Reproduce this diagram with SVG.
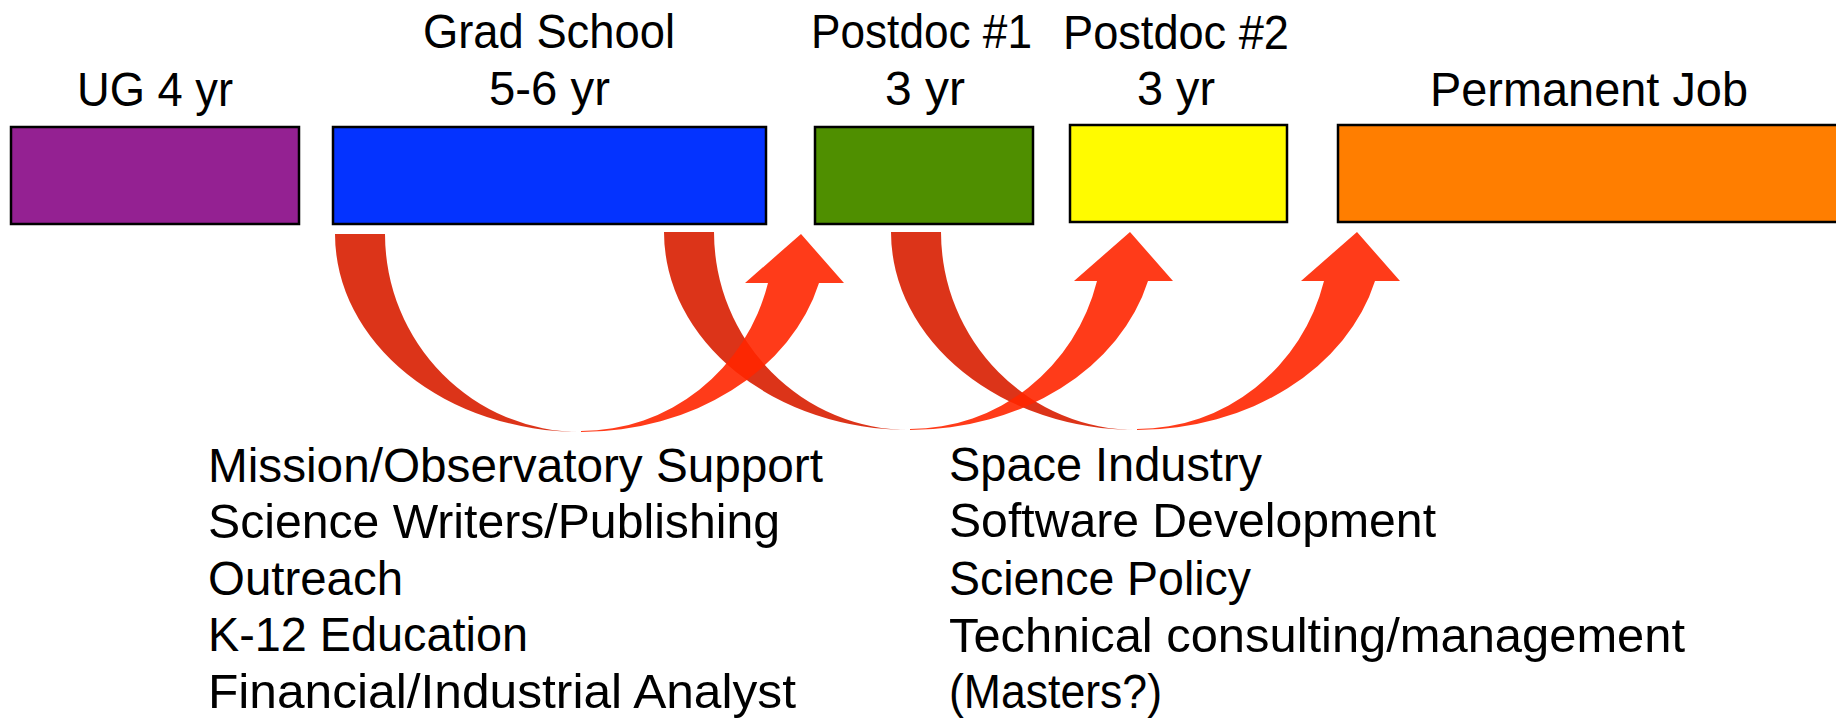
<svg xmlns="http://www.w3.org/2000/svg" xmlns:xlink="http://www.w3.org/1999/xlink" width="1844" height="719" viewBox="0 0 1844 719">
<style>
text{font-family:"Liberation Sans",Arial,sans-serif;font-size:48px;fill:#000}
.lbl{text-anchor:middle}
.box{stroke:#000;stroke-width:2.5}
.dark{fill:#D81E00;fill-opacity:0.9}
.bright{fill:#FF2600;fill-opacity:0.9}
</style>
<defs>
<path id="darkBand" d="M0,0 A246,198 0 0 0 246,198 A196,198 0 0 1 50,0 Z"/>
<path id="brightBand" d="M246,198 A246,198 0 0 0 484,49 L509,49 L466,0 L410,49 L433,49 A193,197 0 0 1 246,197 Z"/>
</defs>
<rect width="1844" height="719" fill="#fff"/>
<g id="ug">
<rect class="box" x="11" y="127" width="288" height="97" fill="#942192"/>
<text class="lbl" x="155" y="106" textLength="156" lengthAdjust="spacingAndGlyphs">UG 4 yr</text>
</g>
<g id="grad">
<rect class="box" x="333" y="127" width="433" height="97" fill="#0433FF"/>
<text class="lbl" x="549" y="48" textLength="252" lengthAdjust="spacingAndGlyphs">Grad School</text>
<text class="lbl" x="549.5" y="105" textLength="121" lengthAdjust="spacingAndGlyphs">5-6 yr</text>
</g>
<g id="postdoc1">
<rect class="box" x="815" y="127" width="218" height="97" fill="#4F8F00"/>
<text class="lbl" x="921.5" y="48" textLength="221" lengthAdjust="spacingAndGlyphs">Postdoc #1</text>
<text class="lbl" x="925" y="105" textLength="80" lengthAdjust="spacingAndGlyphs">3 yr</text>
</g>
<g id="postdoc2">
<rect class="box" x="1070" y="125" width="217" height="97" fill="#FFFB00"/>
<text class="lbl" x="1176" y="49" textLength="226" lengthAdjust="spacingAndGlyphs">Postdoc #2</text>
<text class="lbl" x="1176" y="105" textLength="78" lengthAdjust="spacingAndGlyphs">3 yr</text>
</g>
<g id="permanent">
<rect x="1338" y="125" width="498" height="97" fill="#FF7E00"/>
<path d="M1836,125 H1338 V222 H1836" fill="none" stroke="#000" stroke-width="2.5"/>
<text class="lbl" x="1589" y="106" textLength="318" lengthAdjust="spacingAndGlyphs">Permanent Job</text>
</g>
<g id="connectors">
<use xlink:href="#darkBand" class="dark" transform="translate(335,234)"/>
<use xlink:href="#darkBand" class="dark" transform="translate(664,232)"/>
<use xlink:href="#darkBand" class="dark" transform="translate(891,232)"/>
<use xlink:href="#brightBand" class="bright" transform="translate(335,234)"/>
<use xlink:href="#brightBand" class="bright" transform="translate(664,232)"/>
<use xlink:href="#brightBand" class="bright" transform="translate(891,232)"/>
</g>
<g id="left-list">
<text x="208" y="482" textLength="615" lengthAdjust="spacingAndGlyphs">Mission/Observatory Support</text>
<text x="208" y="538" textLength="572" lengthAdjust="spacingAndGlyphs">Science Writers/Publishing</text>
<text x="208" y="595" textLength="195" lengthAdjust="spacingAndGlyphs">Outreach</text>
<text x="208" y="651" textLength="320" lengthAdjust="spacingAndGlyphs">K-12 Education</text>
<text x="208" y="708" textLength="588" lengthAdjust="spacingAndGlyphs">Financial/Industrial Analyst</text>
</g>
<g id="right-list">
<text x="949" y="481" textLength="313" lengthAdjust="spacingAndGlyphs">Space Industry</text>
<text x="949" y="537" textLength="487" lengthAdjust="spacingAndGlyphs">Software Development</text>
<text x="949" y="595" textLength="302" lengthAdjust="spacingAndGlyphs">Science Policy</text>
<text x="949" y="652" textLength="736" lengthAdjust="spacingAndGlyphs">Technical consulting/management</text>
<text x="949" y="708" textLength="213" lengthAdjust="spacingAndGlyphs">(Masters?)</text>
</g>
</svg>
